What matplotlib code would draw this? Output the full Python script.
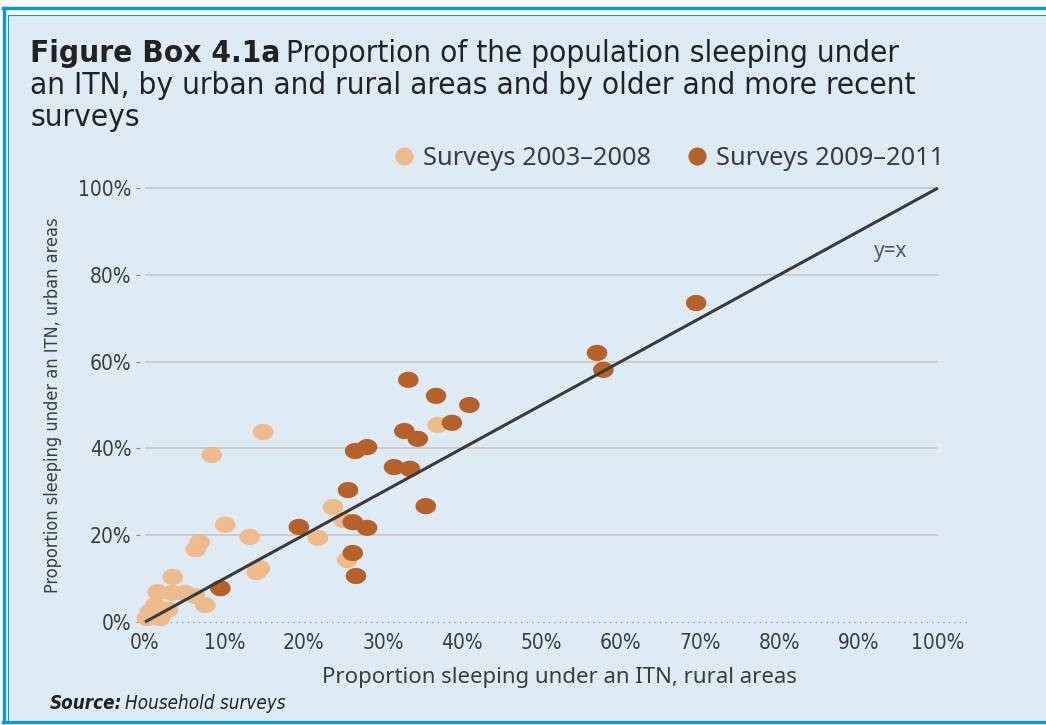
import matplotlib
matplotlib.use("Agg")
import matplotlib.pyplot as plt
from matplotlib import font_manager as fm
from matplotlib.path import Path
from matplotlib.lines import Line2D
from matplotlib.ticker import PercentFormatter
import numpy as np
import os

# ---------------- data (percent) ----------------
older_rural = [14.9, 8.4, 10.1, 13.2, 6.9, 6.4, 14.1, 14.5, 3.5, 1.6, 3.4, 5.0, 6.3, 7.6,
               0.6, 2.1, 0.25, 1.9, 2.9, 1.3, 21.8, 23.7, 25.0, 25.5, 36.9]
older_urban = [43.8, 38.5, 22.4, 19.6, 18.4, 16.8, 11.5, 12.4, 10.4, 6.9, 6.7, 6.7, 6.0, 3.9,
               2.3, 2.1, 0.9, 0.9, 2.8, 3.9, 19.4, 26.5, 23.5, 14.3, 45.4]
recent_rural = [9.5, 19.4, 25.6, 26.2, 28.0, 26.2, 26.6, 26.5, 28.0, 31.4, 33.4, 35.4, 32.7,
                34.4, 33.2, 36.7, 40.9, 38.7, 57.0, 57.8, 69.5]
recent_urban = [7.8, 21.9, 30.4, 23.0, 21.7, 15.9, 10.6, 39.4, 40.3, 35.7, 35.3, 26.7, 44.0,
                42.2, 55.8, 52.1, 50.0, 45.9, 62.0, 58.1, 73.5]
series_labels = ["Surveys 2003\u20132008", "Surveys 2009\u20132011"]
y_ticks = [0, 20, 40, 60, 80, 100]
x_ticks = [0, 10, 20, 30, 40, 50, 60, 70, 80, 90, 100]
ref_line = [0, 100]

LIGHT = "#EDBB8C"
DARK = "#B6602A"
BG = "#DFEBF4"
BLUE = "#0A99DA"
TXT = "#3C3C3C"

# ---------------- fonts ----------------
entries = fm.fontManager.ttflist
names = {f.name for f in entries}


def cond_font(bold=False, italic=False):
    best = None
    for f in entries:
        base = os.path.basename(f.fname).lower()
        if not any(k in base for k in ("condensed", "narrow")):
            continue
        if "semicondensed" in base or "extracondensed" in base:
            continue
        is_bold = "bold" in base
        is_it = ("italic" in base) or ("oblique" in base)
        if is_bold != bold or is_it != italic:
            continue
        score = 0 if "dejavu" in base else (1 if "liberation" in base else 2)
        if best is None or score < best[0]:
            best = (score, f.fname)
    if best:
        return fm.FontProperties(fname=best[1])
    fam = "Roboto" if "Roboto" in names else "DejaVu Sans"
    return fm.FontProperties(family=fam, weight="bold" if bold else "normal",
                             style="italic" if italic else "normal")


FP = cond_font()
FPB = cond_font(bold=True)
FPI = cond_font(italic=True)
FPBI = cond_font(bold=True, italic=True)
REG = "Noto Sans" if "Noto Sans" in names else "DejaVu Sans"

W, H = 1046, 725
fig = plt.figure(figsize=(W / 100, H / 100), dpi=100, facecolor="white")


def fx(px):
    return px / W


def fy(py):
    return 1 - py / H


# panel background & borders
fig.patches.append(plt.Rectangle((fx(8), fy(720)), fx(W) - fx(8), fy(15) - fy(720),
                                 transform=fig.transFigure, facecolor=BG, edgecolor="none",
                                 zorder=-5))
for xs, ys, lw in [([3, W], [8, 8], 2.5), ([4, 4], [8, 722], 2.5), ([3, W], [722, 722], 2.5),
                   ([8, W], [15, 15], 0.8), ([8, 8], [15, 720], 0.8)]:
    fig.add_artist(Line2D([fx(v) for v in xs], [fy(v) for v in ys], color=BLUE, lw=lw,
                          transform=fig.transFigure, zorder=-4))

# axes
ax = fig.add_axes([fx(140), fy(630), fx(960) - fx(140), fy(180) - fy(630)], zorder=2)
ax.set_facecolor("none")
ax.set_xlim(-0.63, 102.77)
ax.set_ylim(-1.84, 101.84)
for s in ax.spines.values():
    s.set_visible(False)

for yv in y_ticks[1:]:
    ax.hlines(yv, 0, 100, color="#CFC9CB", lw=1.3, zorder=1)
ax.hlines(0, 2.5, 104, color="#9A9AA8", lw=1.0, linestyles=(0, (1, 3)), zorder=1, clip_on=False)

t = np.linspace(0, 2 * np.pi, 60)
ell = Path(np.column_stack([1.27 * np.cos(t), np.sin(t)]), closed=True)

ax.scatter(older_rural, older_urban, s=14.8 ** 2, marker=ell, color=LIGHT, edgecolors="none",
           zorder=2, clip_on=False)
ax.scatter(recent_rural, recent_urban, s=14.8 ** 2, marker=ell, color=DARK, edgecolors="none",
           zorder=3, clip_on=False)
ax.plot(ref_line, ref_line, color="#3A3A3A", lw=2.2, zorder=4, solid_capstyle="butt")
ax.text(94, 85.3, "y=x", fontsize=15, color="#555566", family=REG, ha="center", va="center")

ax.set_xticks(x_ticks)
ax.set_yticks(y_ticks)
ax.xaxis.set_major_formatter(PercentFormatter(100, decimals=0))
ax.yaxis.set_major_formatter(PercentFormatter(100, decimals=0))
ax.tick_params(axis="x", length=0, pad=2.5, labelcolor=TXT)
ax.tick_params(axis="y", length=3, width=0.8, color="#888888", pad=3, labelcolor=TXT)
for lab in ax.get_xticklabels() + ax.get_yticklabels():
    lab.set_fontproperties(FP)
    lab.set_fontsize(15)

ax.set_xlabel("Proportion sleeping under an ITN, rural areas", fontsize=16, family=REG,
              color=TXT)
ax.xaxis.set_label_coords(0.512, -0.083)
ax.set_ylabel("Proportion sleeping under an ITN, urban areas", color=TXT, labelpad=12)
ax.yaxis.label.set_fontproperties(FP)
ax.yaxis.label.set_fontsize(13)

h1 = Line2D([], [], marker="o", ls="none", color=LIGHT, markersize=12)
h2 = Line2D([], [], marker="o", ls="none", color=DARK, markersize=12)
leg = ax.legend([h1, h2], series_labels, loc="center", bbox_to_anchor=(0.644, 1.047), ncol=2,
                frameon=False, handletextpad=0.25, columnspacing=1.3, handlelength=1.0,
                prop={"family": REG, "size": 18.3})
for tx in leg.get_texts():
    tx.set_color(TXT)

# title
fig.canvas.draw()
r = fig.canvas.get_renderer()
TS = 22.6
tb = fig.text(fx(30), fy(62), "Figure Box 4.1a", fontproperties=FPB, fontsize=TS,
              color="#222222", va="baseline")
bb = tb.get_window_extent(renderer=r)
fig.text((bb.x1 + 6) / W, fy(62), "Proportion of the population sleeping under",
         fontproperties=FP, fontsize=TS, color="#222222", va="baseline")
fig.text(fx(30), fy(94), "an ITN, by urban and rural areas and by older and more recent",
         fontproperties=FP, fontsize=TS, color="#222222", va="baseline")
fig.text(fx(30), fy(126), "surveys", fontproperties=FP, fontsize=TS, color="#222222",
         va="baseline")

ts = fig.text(fx(50), fy(709), "Source:", fontproperties=FPBI, fontsize=13.5,
              color="#222222", va="baseline")
bb2 = ts.get_window_extent(renderer=r)
fig.text((bb2.x1 + 3) / W, fy(709), "Household surveys", fontproperties=FPI, fontsize=13.5,
         color="#222222", va="baseline")

fig.savefig("out.png", dpi=100, facecolor="white")
